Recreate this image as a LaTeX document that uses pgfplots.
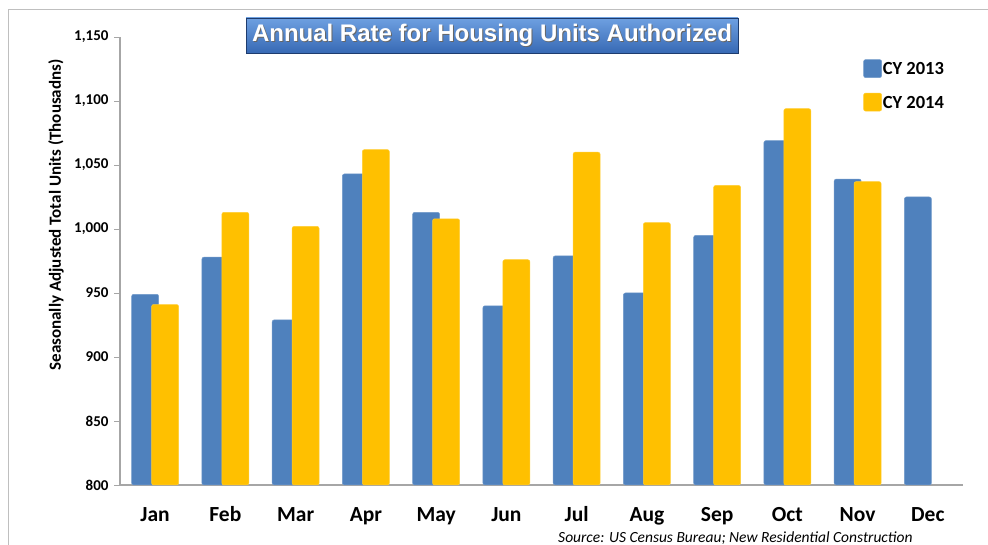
\documentclass[border=0pt]{standalone}
\usepackage{pgfplots}
\pgfplotsset{compat=1.18}
\usepackage{fontspec}
\setmainfont{Carlito}
\newfontfamily\arialfont{Liberation Sans}
\definecolor{cyblue}{HTML}{4F81BD}
\definecolor{cyyellow}{HTML}{FFC000}
\definecolor{axgray}{HTML}{A6A6A6}
\begin{document}
\begin{tikzpicture}[x=1pt,y=1pt]
\useasboundingbox (0,0) rectangle (988,545);
% outer frame
\draw[color=black!25,line width=0.8pt] (8,0) -- (8,536) -- (988,536);
\begin{axis}[
  at={(120pt,60pt)}, anchor=south west,
  scale only axis, width=843pt, height=448pt,
  xmin=-0.5, xmax=11.5, ymin=800, ymax=1150,
  axis x line*=bottom, axis y line*=left,
  axis line style={color=axgray, line width=1.2pt},
  ytick={800,850,...,1150},
  scaled y ticks=false,
  /pgf/number format/assume math mode=true,
  /pgf/number format/1000 sep={,},
  yticklabel style={font=\fontsize{15}{17}\selectfont\bfseries, anchor=east, xshift=-2pt},
  ytick style={color=axgray, line width=0.8pt},
  major tick length=6pt,
  tick align=outside,
  xtick={0,...,11},
  xticklabels={Jan,Feb,Mar,Apr,May,Jun,Jul,Aug,Sep,Oct,Nov,Dec},
  xticklabel style={font=\fontsize{21.5}{24}\selectfont\bfseries, text height=15pt, text depth=4pt, yshift=-12pt},
  x tick style={draw=none},
  minor xtick={-0.5,0.5,...,11.5},
  minor x tick style={color=axgray, line width=0.8pt},
  minor tick length=7pt,
  ybar, bar width=0.384,
  legend style={at={(0.878,0.955)}, anchor=north west, draw=none, fill=none,
    font=\fontsize{18.5}{21}\selectfont\bfseries, row sep=15pt,
    nodes={inner sep=1pt}},
  legend cell align=left,
  legend image code/.code={\fill[#1,rounded corners=2pt] (0pt,-8pt) rectangle (18pt,10pt);},
  clip=false,
]
\addplot[fill=cyblue, draw=cyblue!80!white, line width=0.5pt, rounded corners=2pt, bar shift=-0.142]
  coordinates {(0,949) (1,978) (2,929) (3,1043) (4,1013) (5,940) (6,979) (7,950) (8,995) (9,1069) (10,1039) (11,1025)};
\addplot[fill=cyyellow, draw=cyyellow!80!white, line width=0.5pt, rounded corners=2pt, bar shift=0.142]
  coordinates {(0,941) (1,1013) (2,1002) (3,1062) (4,1008) (5,976) (6,1060) (7,1005) (8,1034) (9,1094) (10,1037)};
\legend{CY 2013, CY 2014}
\end{axis}
% y label
\node[rotate=90, font=\fontsize{17}{20}\selectfont\bfseries] at (56,330) {Seasonally Adjusted Total Units (Thousadns)};
% title
\shade[top color={rgb,255:red,110;green,160;blue,225}, bottom color={rgb,255:red,55;green,105;blue,180}, draw={rgb,255:red,30;green,60;blue,110}, line width=0.8pt] (246,492) rectangle (738,527);
\node[font=\arialfont\fontsize{24}{28}\selectfont\bfseries, text=black!60] at (493,508.5) {Annual Rate for Housing Units Authorized};
\node[font=\arialfont\fontsize{24}{28}\selectfont\bfseries, text=white] at (492,509.5) {Annual Rate for Housing Units Authorized};
% source
\node[font=\fontsize{15.5}{18}\selectfont\itshape, anchor=east] at (916,7) {Source: US Census Bureau; New Residential Construction};
\end{tikzpicture}
\end{document}
